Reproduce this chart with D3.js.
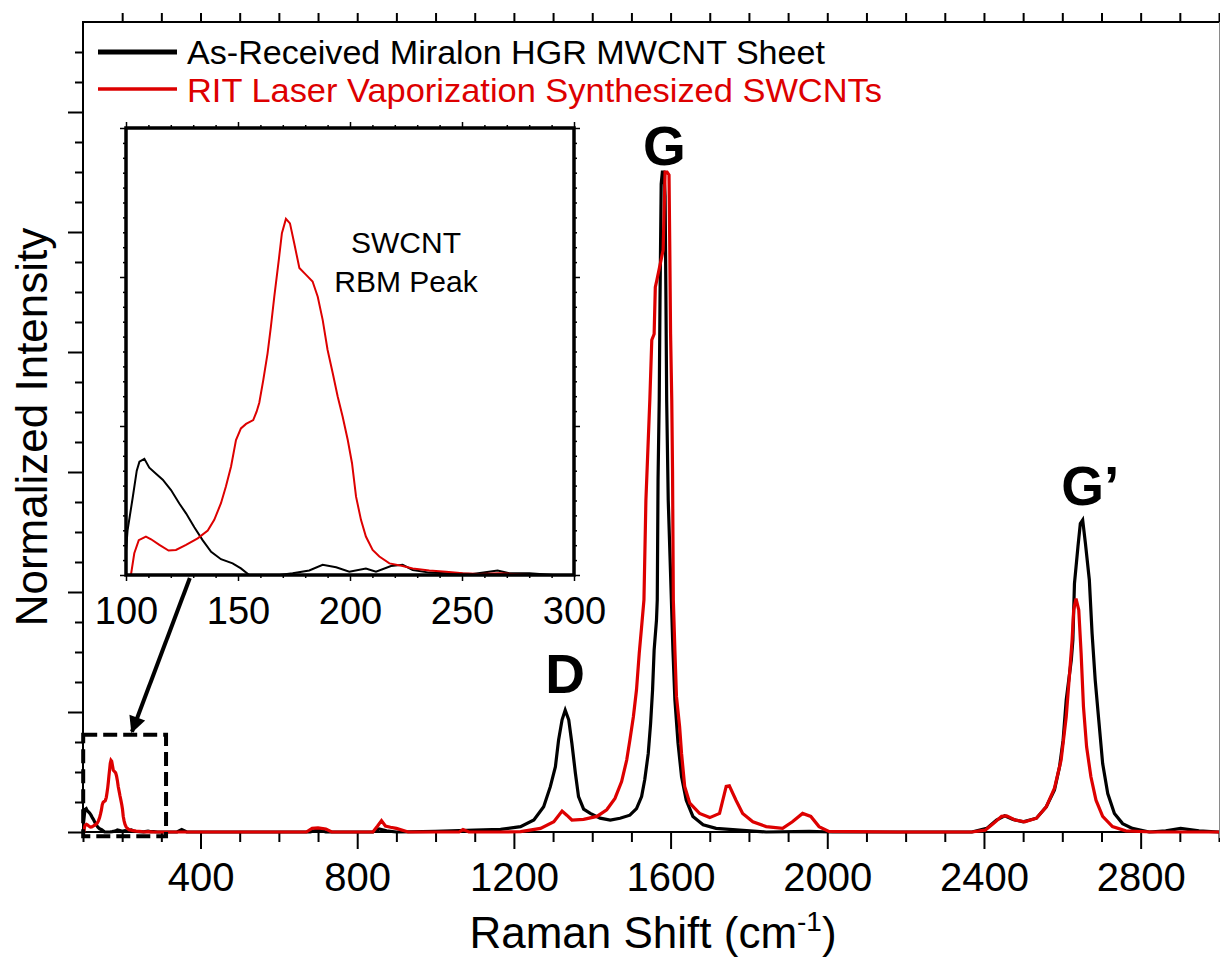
<!DOCTYPE html>
<html>
<head>
<meta charset="utf-8">
<script src="https://cdn.jsdelivr.net/npm/d3@7"></script>
<style>
  body { margin: 0; background: #fff; }
  svg { display: block; }
  text { font-family: "Liberation Sans", Arial, Helvetica, sans-serif; }
</style>
</head>
<body>
<svg id="chart" width="1220" height="957"></svg>
<script>
// Raman spectra: [Raman shift (cm^-1), normalized intensity]
const seriesNames = ["As-Received Miralon HGR MWCNT Sheet", "RIT Laser Vaporization Synthesized SWCNTs"];
const seriesColors = ["#000000", "#dd0000"];

const mwcntSpectrum = [
  [100, 0.008], [100.7, 0.015], [103, 0.026], [104.8, 0.035], [106, 0.038], [108.2, 0.039],
  [110.4, 0.036], [113.4, 0.034], [116.4, 0.032], [120.1, 0.0285], [123.8, 0.024], [126.8, 0.0207],
  [130.5, 0.016], [134.2, 0.0117], [138, 0.0078], [142.4, 0.0053], [147.6, 0.0039], [151.3, 0.0022],
  [155, 0], [168.5, 0], [174.4, 0.0006], [181.8, 0.0015], [187.8, 0.0034], [193.8, 0.0026],
  [199.7, 0.0011], [207.1, 0.0022], [211.6, 0.0011], [218.3, 0.003], [223.5, 0.0034], [228, 0.0017],
  [235.4, 0.0008], [242.9, 0.0006], [254.8, 0.0003], [265.9, 0.0015], [271.1, 0.0006], [280.1, 0.0006],
  [290.5, 0], [340, 0], [352, 0.004], [365, 0], [680, 0], [700, 0.004], [720, 0], [840, 0],
  [856, 0.005], [875, 0.002], [900, 0], [1000, 0.001], [1100, 0.003], [1166, 0.0044], [1217, 0.0089],
  [1251, 0.02], [1276, 0.042], [1293, 0.0756], [1306, 0.109], [1314, 0.153], [1323, 0.187],
  [1331, 0.203], [1340, 0.187], [1348, 0.148], [1357, 0.098], [1365, 0.059], [1378, 0.038],
  [1395, 0.031], [1420, 0.023], [1446, 0.02], [1471, 0.023], [1496, 0.028], [1513, 0.039],
  [1526, 0.059], [1534, 0.087], [1543, 0.131], [1549, 0.181], [1554, 0.237], [1558, 0.303],
  [1564, 0.353], [1566, 0.387], [1568, 0.587], [1571, 0.72], [1573, 0.887], [1576, 1.08],
  [1579, 1.1], [1583, 1.1], [1586, 1.06], [1588, 0.9], [1590, 0.72], [1594, 0.553], [1602, 0.387],
  [1606, 0.303], [1611, 0.22], [1619, 0.148], [1628, 0.092], [1640, 0.053], [1657, 0.026],
  [1683, 0.012], [1716, 0.006], [1776, 0.003], [1844, 0], [1954, 0.001], [2013, 0], [2369, 0],
  [2407, 0.006], [2432, 0.02], [2453, 0.027], [2474, 0.021], [2500, 0.017], [2534, 0.023],
  [2559, 0.042], [2580, 0.07], [2593, 0.109], [2602, 0.153], [2610, 0.22], [2623, 0.287],
  [2627, 0.32], [2631, 0.414], [2640, 0.476], [2646, 0.514], [2652, 0.52], [2659, 0.481],
  [2669, 0.42], [2676, 0.331], [2684, 0.253], [2693, 0.187], [2703, 0.114], [2716, 0.064],
  [2733, 0.031], [2754, 0.014], [2779, 0.006], [2822, 0], [2864, 0.002], [2902, 0.006],
  [2949, 0.002], [3000, 0]
];

const swcntSpectrum = [
  [102.2, 0], [103.7, 0.0073], [105.7, 0.0117], [108.9, 0.0129], [111.2, 0.012], [114.9, 0.0101],
  [119, 0.0082], [122.3, 0.0084], [126.8, 0.0101], [132, 0.0123], [136.5, 0.0149], [139.4, 0.0185],
  [142.4, 0.0241], [144.6, 0.0297], [146.9, 0.0364], [149.1, 0.0453], [151.3, 0.0492], [153.6, 0.0507],
  [156.8, 0.052], [158.3, 0.0548], [159.5, 0.0578], [161.3, 0.0655], [163.2, 0.0744], [164.7, 0.0834],
  [166.2, 0.0934], [168.2, 0.1057], [169.6, 0.1147], [171.4, 0.1195], [173.2, 0.118], [175.1, 0.1113],
  [177.4, 0.103], [180.4, 0.1007], [183.3, 0.0985], [185.6, 0.0934], [187.8, 0.0856], [190, 0.0755],
  [192.3, 0.0677], [194.5, 0.0599], [196.7, 0.0532], [199, 0.0453], [200.9, 0.0375], [202.7, 0.0263],
  [204.9, 0.0185], [207.1, 0.0129], [210.1, 0.0084], [213.1, 0.0062], [217.6, 0.0039], [223.5, 0.003],
  [228, 0.0022], [235.4, 0.0015], [242.9, 0.0011], [250.3, 0.0006], [257.7, 0.0003], [266.7, 0.0006],
  [280, 0], [670, 0], [685, 0.006], [700, 0.007], [720, 0.005], [735, 0], [840, 0], [852, 0.01],
  [862, 0.019], [872, 0.01], [885, 0.008], [900, 0.006], [930, 0], [1060, 0], [1070, 0.004],
  [1085, 0], [1166, 0], [1217, 0.0006], [1268, 0.006], [1302, 0.017], [1323, 0.035], [1335, 0.028],
  [1348, 0.02], [1378, 0.021], [1412, 0.026], [1437, 0.037], [1458, 0.056], [1475, 0.084],
  [1488, 0.12], [1496, 0.153], [1505, 0.192], [1513, 0.237], [1520, 0.298], [1526, 0.342],
  [1532, 0.387], [1537, 0.553], [1547, 0.72], [1552, 0.82], [1558, 0.83], [1561, 0.908],
  [1565, 0.92], [1581, 0.97], [1586, 1.1], [1591, 1.1], [1596, 1.095], [1598, 0.97], [1600, 0.83],
  [1603, 0.72], [1605, 0.6], [1607, 0.387], [1611, 0.303], [1615, 0.226], [1623, 0.176],
  [1628, 0.131], [1636, 0.076], [1649, 0.048], [1674, 0.031], [1700, 0.024], [1725, 0.031],
  [1742, 0.076], [1750, 0.077], [1767, 0.053], [1784, 0.031], [1810, 0.017], [1844, 0.009],
  [1886, 0.006], [1911, 0.017], [1937, 0.031], [1958, 0.026], [1979, 0.009], [2004, 0.001],
  [2182, 0], [2369, 0], [2403, 0.003], [2424, 0.014], [2445, 0.026], [2458, 0.027], [2479, 0.02],
  [2504, 0.017], [2534, 0.023], [2559, 0.042], [2580, 0.073], [2597, 0.12], [2610, 0.192],
  [2620, 0.276], [2625, 0.32], [2629, 0.37], [2635, 0.389], [2642, 0.37], [2648, 0.298],
  [2654, 0.209], [2662, 0.142], [2673, 0.092], [2686, 0.053], [2703, 0.026], [2728, 0.009],
  [2762, 0.002], [2830, 0], [3000, 0]
];

const xTickLabels = [400, 800, 1200, 1600, 2000, 2400, 2800];
const insetTickLabels = [100, 150, 200, 250, 300];
const peakNames = ["D", "G", "G\u2019"];

const svg = d3.select("#chart");

// ---- main axes ----
const xDomain = [100, 3000], yDomain = [0, 1.35];
const x = d3.scaleLinear().domain(xDomain).range([83, 1219]);
const y = d3.scaleLinear().domain(yDomain).range([832, 22]);

const isMultiple = (v, step) => Math.abs(v / step - Math.round(v / step)) < 1e-6;

const xMinor = d3.range(100, 3001, 100).filter(v => !xTickLabels.includes(v));
const yAll = d3.range(0, 1.35 - 1e-9, 0.05).map(v => +v.toFixed(2));
const yMinor = yAll.filter(v => !isMultiple(v, 0.2));
const yMajor = yAll.filter(v => isMultiple(v, 0.2));

function styleAxis(g) {
  g.select(".domain").remove();
  g.selectAll(".tick line").attr("stroke", "#000").attr("stroke-width", 2);
  g.selectAll("text").attr("fill", "#000").style("font-family", "'Liberation Sans', Arial, sans-serif");
}

// bottom axis
svg.append("g").attr("transform", "translate(0,832)")
  .call(d3.axisBottom(x).tickValues(xMinor).tickSize(10).tickFormat(""))
  .call(styleAxis);
svg.append("g").attr("transform", "translate(0,832)")
  .call(d3.axisBottom(x).tickValues(xTickLabels).tickSize(17).tickPadding(14).tickFormat(d3.format("d")))
  .call(styleAxis)
  .call(g => g.selectAll("text").attr("font-size", 40));

// top axis (ticks only)
svg.append("g").attr("transform", "translate(0,22)")
  .call(d3.axisTop(x).tickValues(d3.range(200, 3001, 100)).tickSize(9).tickFormat(""))
  .call(styleAxis);

// left axis (ticks only)
svg.append("g").attr("transform", "translate(83,0)")
  .call(d3.axisLeft(y).tickValues(yMinor).tickSize(8).tickFormat(""))
  .call(styleAxis);
svg.append("g").attr("transform", "translate(83,0)")
  .call(d3.axisLeft(y).tickValues(yMajor).tickSize(15).tickFormat(""))
  .call(styleAxis);

// frame lines
svg.append("line").attr("x1", 83).attr("x2", 83).attr("y1", 21).attr("y2", 833)
  .attr("stroke", "#000").attr("stroke-width", 2);
svg.append("line").attr("x1", 82).attr("x2", 1220).attr("y1", 22).attr("y2", 22)
  .attr("stroke", "#000").attr("stroke-width", 2);
svg.append("line").attr("x1", 82).attr("x2", 1220).attr("y1", 832).attr("y2", 832)
  .attr("stroke", "#000").attr("stroke-width", 2);
svg.append("line").attr("x1", 1219.5).attr("x2", 1219.5).attr("y1", 22).attr("y2", 838)
  .attr("stroke", "#8a8a8a").attr("stroke-width", 1);

// ---- spectra ----
svg.append("clipPath").attr("id", "mainClip")
  .append("rect").attr("x", 83).attr("y", 22).attr("width", 1136).attr("height", 816);

const line = d3.line().x(d => x(d[0])).y(d => y(d[1]));
const spectra = [mwcntSpectrum, swcntSpectrum];

const plot = svg.append("g").attr("clip-path", "url(#mainClip)");
spectra.forEach((s, i) => {
  plot.append("path").datum(s)
    .attr("d", line)
    .attr("fill", "none")
    .attr("stroke", seriesColors[i])
    .attr("stroke-width", 3.2)
    .attr("stroke-linejoin", "miter");
});

// dashed box around the RBM region
svg.append("rect")
  .attr("x", x(100.5)).attr("y", y(0.162))
  .attr("width", x(312) - x(100.5)).attr("height", y(-0.007) - y(0.162))
  .attr("fill", "none").attr("stroke", "#000").attr("stroke-width", 4)
  .attr("stroke-dasharray", "14,6");

// peak labels
const peakAnchors = [[1331, 0.232, "middle"], [1584, 1.112, "middle"], [2597, 0.545, "start"]];
peakNames.forEach((name, i) => {
  const [px, py, anchor] = peakAnchors[i];
  svg.append("text").attr("x", x(px)).attr("y", y(py))
    .attr("text-anchor", anchor)
    .attr("font-size", 55).attr("font-weight", "bold")
    .attr("fill", "#000").text(name);
});

// ---- legend ----
const legendY = [52, 89];
const legendBase = [64, 102];
const legendLen = [638, 695];
seriesNames.forEach((name, i) => {
  svg.append("line").attr("x1", 98).attr("x2", 177)
    .attr("y1", legendY[i]).attr("y2", legendY[i])
    .attr("stroke", seriesColors[i]).attr("stroke-width", i === 0 ? 5 : 3.5);
  svg.append("text").attr("x", 187).attr("y", legendBase[i])
    .attr("font-size", 34).attr("fill", seriesColors[i])
    .attr("textLength", legendLen[i]).attr("lengthAdjust", "spacingAndGlyphs")
    .text(name);
});

// ---- axis titles ----
const xTitle = svg.append("text").attr("x", 653).attr("y", 948)
  .attr("text-anchor", "middle").attr("font-size", 44).attr("fill", "#000");
xTitle.append("tspan").text("Raman Shift (cm");
xTitle.append("tspan").attr("font-size", 28).attr("dy", -17).text("-1");
xTitle.append("tspan").attr("dy", 17).text(")");

svg.append("text")
  .attr("transform", "translate(47,427) rotate(-90)")
  .attr("text-anchor", "middle").attr("font-size", 44).attr("fill", "#000")
  .text("Normalized Intensity");

// ---- inset: RBM region ----
const xi = d3.scaleLinear().domain([100, 300]).range([126, 574]);
const yi = d3.scaleLinear().domain([0, 0.15]).range([575, 128]);

const inset = svg.append("g");
inset.append("rect").attr("x", xi(100)).attr("y", yi(0.15))
  .attr("width", xi(300) - xi(100)).attr("height", yi(0) - yi(0.15))
  .attr("fill", "#fff");

inset.append("clipPath").attr("id", "insetClip")
  .append("rect").attr("x", xi(100)).attr("y", yi(0.15))
  .attr("width", xi(300) - xi(100)).attr("height", yi(0) - yi(0.15));

const insetLine = d3.line().x(d => xi(d[0])).y(d => yi(d[1]));
const insetPlot = inset.append("g").attr("clip-path", "url(#insetClip)");
spectra.forEach((s, i) => {
  insetPlot.append("path").datum(s.filter(d => d[0] <= 320))
    .attr("d", insetLine)
    .attr("fill", "none")
    .attr("stroke", seriesColors[i])
    .attr("stroke-width", 2);
});

const xiAll = d3.range(100, 301, 10);
const xiMinor = xiAll.filter(v => !insetTickLabels.includes(v));
const yiAll = d3.range(0, 0.1501, 0.005).map(v => +v.toFixed(3));
const yiMinor = yiAll.filter(v => !isMultiple(v, 0.05));
const yiMajor = yiAll.filter(v => isMultiple(v, 0.05));

function insetAxis(g) {
  g.select(".domain").remove();
  g.selectAll(".tick line").attr("stroke", "#000").attr("stroke-width", 1.5);
  g.selectAll("text").attr("fill", "#000");
}
inset.append("g").attr("transform", `translate(0,${yi(0)})`)
  .call(d3.axisBottom(xi).tickValues(xiMinor).tickSize(3).tickFormat("")).call(insetAxis);
inset.append("g").attr("transform", `translate(0,${yi(0)})`)
  .call(d3.axisBottom(xi).tickValues(insetTickLabels).tickSize(6).tickPadding(16).tickFormat(d3.format("d")))
  .call(insetAxis)
  .call(g => g.selectAll("text").attr("font-size", 38));
inset.append("g").attr("transform", `translate(0,${yi(0.15)})`)
  .call(d3.axisTop(xi).tickValues(xiMinor).tickSize(3).tickFormat("")).call(insetAxis);
inset.append("g").attr("transform", `translate(0,${yi(0.15)})`)
  .call(d3.axisTop(xi).tickValues(insetTickLabels).tickSize(6).tickFormat("")).call(insetAxis);
inset.append("g").attr("transform", `translate(${xi(100)},0)`)
  .call(d3.axisLeft(yi).tickValues(yiMinor).tickSize(3).tickFormat("")).call(insetAxis);
inset.append("g").attr("transform", `translate(${xi(100)},0)`)
  .call(d3.axisLeft(yi).tickValues(yiMajor).tickSize(6).tickFormat("")).call(insetAxis);
inset.append("g").attr("transform", `translate(${xi(300)},0)`)
  .call(d3.axisRight(yi).tickValues(yiMinor).tickSize(3).tickFormat("")).call(insetAxis);
inset.append("g").attr("transform", `translate(${xi(300)},0)`)
  .call(d3.axisRight(yi).tickValues(yiMajor).tickSize(6).tickFormat("")).call(insetAxis);

inset.append("rect").attr("x", xi(100)).attr("y", yi(0.15))
  .attr("width", xi(300) - xi(100)).attr("height", yi(0) - yi(0.15))
  .attr("fill", "none").attr("stroke", "#000").attr("stroke-width", 3.5);

inset.append("text").attr("x", xi(225)).attr("y", yi(0.108))
  .attr("text-anchor", "middle").attr("font-size", 30).attr("fill", "#000").text("SWCNT");
inset.append("text").attr("x", xi(225)).attr("y", yi(0.095))
  .attr("text-anchor", "middle").attr("font-size", 30).attr("fill", "#000").text("RBM Peak");

// ---- arrow from inset to the dashed box ----
svg.append("defs").append("marker")
  .attr("id", "arrowHead").attr("viewBox", "0 0 10 10")
  .attr("refX", 9).attr("refY", 5)
  .attr("markerWidth", 5).attr("markerHeight", 4.2)
  .attr("markerUnits", "strokeWidth")
  .attr("orient", "auto")
  .append("path").attr("d", "M0,0 L10,5 L0,10 Z").attr("fill", "#000");

svg.append("line")
  .attr("x1", xi(128.5)).attr("y1", yi(-0.001))
  .attr("x2", x(225)).attr("y2", y(0.167))
  .attr("stroke", "#000").attr("stroke-width", 4)
  .attr("marker-end", "url(#arrowHead)");
</script>
</body>
</html>
